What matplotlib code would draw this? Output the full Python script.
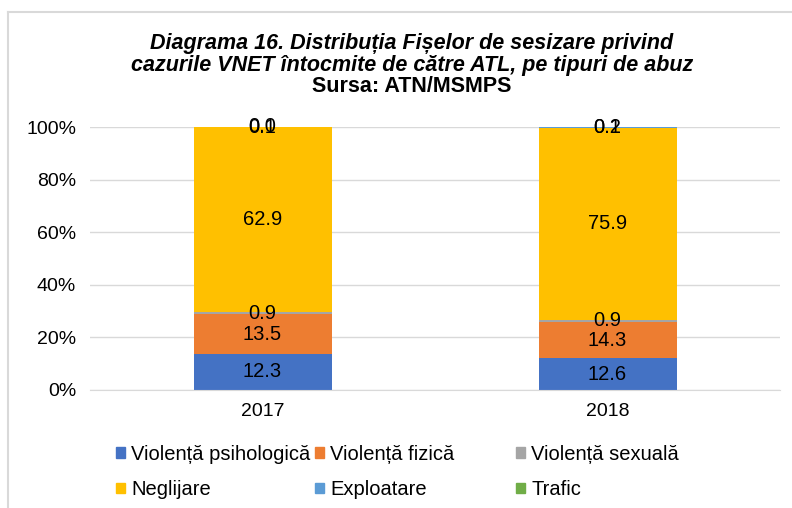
import matplotlib
matplotlib.use("Agg")
from matplotlib import pyplot as plt
from matplotlib.lines import Line2D
from matplotlib.patches import Patch

# Chart data (values as printed on the bars, shown as 100% stacked)
years = ["2017", "2018"]
categories = ["Violență psihologică", "Violență fizică", "Violență sexuală",
              "Neglijare", "Exploatare", "Trafic"]
psihologica = [12.3, 12.6]
fizica = [13.5, 14.3]
sexuala = [0.9, 0.9]
neglijare = [62.9, 75.9]
exploatare = [0.1, 0.2]
trafic = [0.0, 0.1]

colors = ["#4472C4", "#ED7D31", "#A5A5A5", "#FFC000", "#5B9BD5", "#70AD47"]
series = [psihologica, fizica, sexuala, neglijare, exploatare, trafic]
title_lines = ["Diagrama 16. Distribuția Fișelor de sesizare privind",
               "cazurile VNET întocmite de către ATL, pe tipuri de abuz"]

plt.rcParams['font.family'] = ['Liberation Sans', 'DejaVu Sans']

W, H = 792, 508
fig = plt.figure(figsize=(W / 100, H / 100), dpi=100)
ax = fig.add_axes([90 / W, 1 - 390 / H, 690 / W, 263 / H])

totals = [sum(s[i] for s in series) for i in range(len(years))]
x = list(range(len(years)))
bottoms = [0.0] * len(years)
handles = []
for vals, col, name in zip(series, colors, categories):
    heights = [v / t * 100 for v, t in zip(vals, totals)]
    ax.bar(x, heights, width=0.4, bottom=bottoms, color=col, zorder=2)
    for i, (h, v) in enumerate(zip(heights, vals)):
        ax.text(x[i], bottoms[i] + h / 2, f"{v:.1f}", ha='center', va='center',
                fontsize=14.5, color='black', zorder=3)
    bottoms = [b + h for b, h in zip(bottoms, heights)]
    handles.append(Patch(color=col, label=name))

ax.set_xlim(-0.5, 1.5)
ax.set_ylim(0, 100)
ax.set_yticks(range(0, 101, 20))
ax.set_yticklabels([f"{v}%" for v in range(0, 101, 20)])
ax.set_xticks(x)
ax.set_xticklabels(years)
ax.tick_params(axis='both', length=0, labelsize=14, pad=10)
ax.tick_params(axis='x', pad=9)
ax.grid(axis='y', color='#D9D9D9', linewidth=1, zorder=0)
for side in ['top', 'right', 'left']:
    ax.spines[side].set_visible(False)
ax.spines['bottom'].set_color('#D9D9D9')

# title (block is centred a bit right of the figure centre)
tx = 412 / W
fig.text(tx, 1 - 43 / H, title_lines[0], ha='center', va='center',
         fontsize=15.5, fontweight='bold', fontstyle='italic')
fig.text(tx, 1 - 65 / H, title_lines[1], ha='center', va='center',
         fontsize=15.5, fontweight='bold', fontstyle='italic')
fig.text(tx, 1 - 86 / H, "Sursa: ATN/MSMPS", ha='center', va='center',
         fontsize=15.5, fontweight='bold')

# legend as three columns with equal spacing
col_x = [116, 315, 516]
for c in range(3):
    fig.legend(handles=[handles[c], handles[c + 3]], loc='upper left',
               bbox_to_anchor=(col_x[c] / W, 1 - 445 / H), frameon=False,
               fontsize=14.5, handlelength=0.45, handleheight=0.45,
               handletextpad=0.3, labelspacing=0.8, borderaxespad=0,
               borderpad=0)

# chart frame: only top and left edges are visible in the crop
fig.add_artist(Line2D([8 / W, 1], [1 - 12 / H, 1 - 12 / H],
                      transform=fig.transFigure, color='#D9D9D9', linewidth=1.5))
fig.add_artist(Line2D([8 / W, 8 / W], [0, 1 - 12 / H],
                      transform=fig.transFigure, color='#D9D9D9', linewidth=1.5))

fig.savefig("out.png", dpi=100)
